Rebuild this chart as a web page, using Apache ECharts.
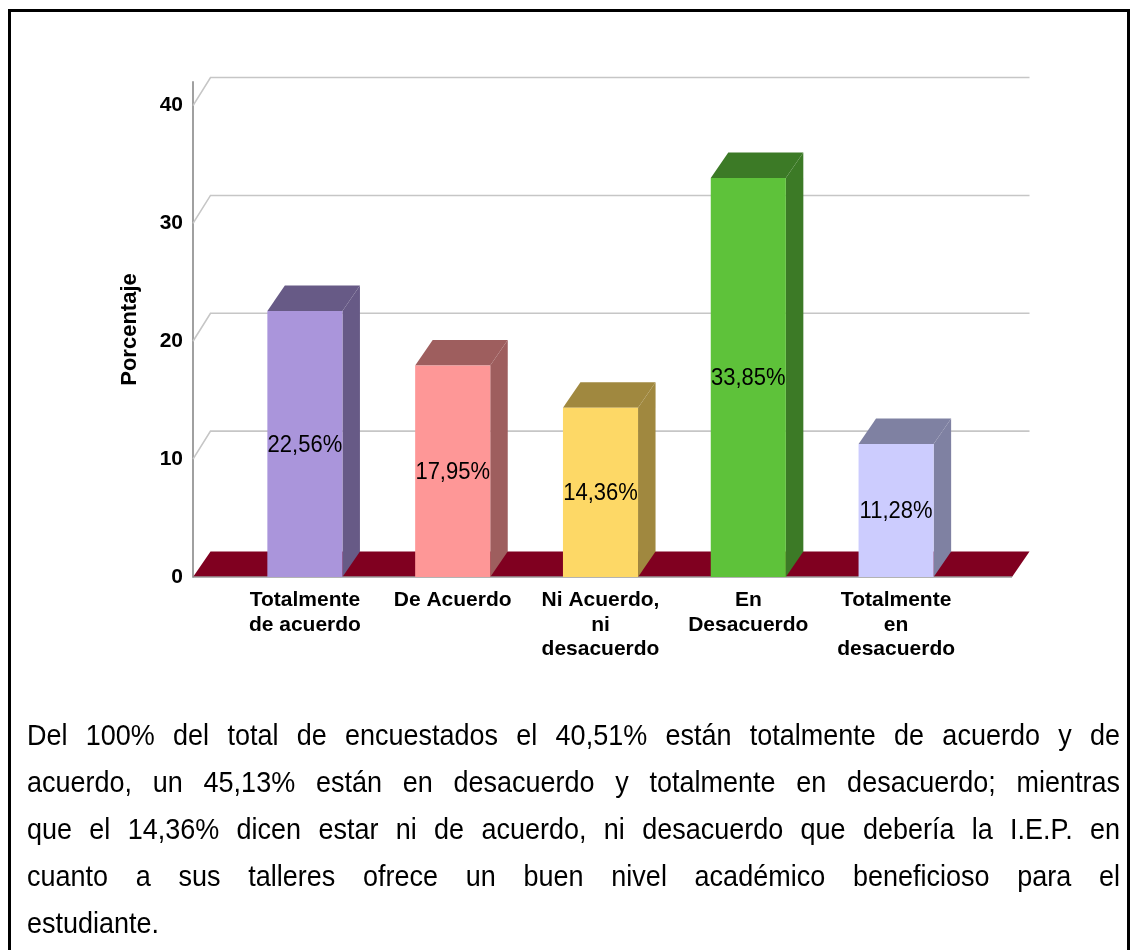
<!DOCTYPE html>
<html><head><meta charset="utf-8">
<script src="https://cdn.jsdelivr.net/npm/echarts@6/dist/echarts.min.js"></script>
<style>
html,body{margin:0;padding:0;background:#fff;}
#wrap{position:relative;width:1131px;height:950px;overflow:hidden;background:#fff;}
#chart{position:absolute;left:0;top:0;width:1131px;height:950px;}
#frame{position:absolute;left:8px;top:9px;width:1122px;height:980px;border:3px solid #000;box-sizing:border-box;pointer-events:none;}
#para{position:absolute;left:27px;top:712px;width:1093px;font-family:"Liberation Sans",Arial,sans-serif;font-size:27px;line-height:47px;color:#000;}
#para div{white-space:nowrap;text-align:justify;text-align-last:justify;transform:scaleY(1.08);}
#para div.last{text-align-last:left;text-align:left;}
</style></head>
<body><div id="wrap"><div id="chart"></div><div id="frame"></div><div id="para"></div></div>
<script>
// ---- data ----
const categories = ['Totalmente\nde acuerdo', 'De Acuerdo', 'Ni Acuerdo,\nni\ndesacuerdo', 'En\nDesacuerdo', 'Totalmente\nen\ndesacuerdo'];
const percentages = [22.56, 17.95, 14.36, 33.85, 11.28];
const yTicks = [10, 20, 30, 40];
const yAxisName = 'Porcentaje';
const paragraphLines = [
  'Del 100% del total de encuestados el 40,51% están totalmente de acuerdo y de',
  'acuerdo, un 45,13% están en desacuerdo y totalmente en desacuerdo; mientras',
  'que el 14,36% dicen estar ni de acuerdo, ni desacuerdo que debería la I.E.P. en',
  'cuanto a sus talleres ofrece un buen nivel académico beneficioso para el',
  'estudiante.'
];
// ---- styles ----
const faceColors = ['#AA95DB', '#FE9797', '#FDD866', '#5EC23A', '#CCCCFE'];
const shadeColors = ['#675A86', '#9E5E5E', '#A0883F', '#3C7A26', '#7F81A2'];
const FLOOR = '#800020';
const GRID_GRAY = '#c6c6c6';
const DX = 17.5, DY = -25.5, GRID_DY = -28;
const AXIS_OFFSET = 38, FLOOR_PAD_RIGHT = 42;
const FONT = '"Liberation Sans", Arial, sans-serif';

// paragraph (plain text)
const para = document.getElementById('para');
paragraphLines.forEach((t, i) => {
  const d = document.createElement('div');
  d.textContent = t;
  if (i === paragraphLines.length - 1) d.className = 'last';
  para.appendChild(d);
});

function fmt(v) { return v.toFixed(2).replace('.', ',') + '%'; }

function renderFrame(params, api) {
  const cs = params.coordSys;
  const xl = cs.x - AXIS_OFFSET;
  const xr = cs.x + cs.width + FLOOR_PAD_RIGHT;
  const y0 = api.coord([0, 0])[1];
  const children = [];
  yTicks.forEach(t => {
    const y = api.coord([0, t])[1];
    children.push({
      type: 'polyline',
      shape: { points: [[xl, y], [xl + DX, y + GRID_DY], [xr + DX, y + GRID_DY]] },
      style: { stroke: GRID_GRAY, lineWidth: 1.6, fill: null }
    });
  });
  children.push({
    type: 'polygon',
    shape: { points: [[xl, y0], [xl + DX, y0 + DY], [xr + DX, y0 + DY], [xr, y0]] },
    style: { fill: FLOOR }
  });
  children.push({
    type: 'line',
    shape: { x1: xl, y1: y0, x2: xr, y2: y0 },
    style: { stroke: '#9a9a9a', lineWidth: 1.5 }
  });
  return { type: 'group', children };
}

function renderBar(params, api) {
  const i = api.value(0), v = api.value(1);
  const topPt = api.coord([i, v]);
  const basePt = api.coord([i, 0]);
  const bw = api.size([1, 0])[0] * 0.508;
  const x0 = topPt[0] - bw / 2, x1 = topPt[0] + bw / 2;
  const yt = topPt[1], yb = basePt[1];
  return {
    type: 'group',
    children: [
      { type: 'polygon', shape: { points: [[x1, yt], [x1 + DX, yt + DY], [x1 + DX, yb + DY], [x1, yb]] }, style: { fill: shadeColors[i] } },
      { type: 'polygon', shape: { points: [[x0, yt], [x0 + DX, yt + DY], [x1 + DX, yt + DY], [x1, yt]] }, style: { fill: shadeColors[i] } },
      { type: 'rect', shape: { x: x0, y: yt, width: bw, height: yb - yt }, style: { fill: faceColors[i] } },
      { type: 'text', x: topPt[0], y: (yt + yb) / 2 + 1, scaleY: 1.12, style: { text: fmt(v), fill: '#000', fontSize: 22, fontFamily: FONT, align: 'center', verticalAlign: 'middle' } }
    ]
  };
}

const chart = echarts.init(document.getElementById('chart'), null, { renderer: 'canvas' });
chart.setOption({
  animation: false,
  backgroundColor: 'transparent',
  textStyle: { fontFamily: FONT },
  grid: { left: 231, right: 161, top: 82, bottom: 373, containLabel: false },
  xAxis: {
    type: 'category',
    data: categories,
    axisLine: { show: false },
    axisTick: { show: false },
    splitLine: { show: false },
    axisLabel: { interval: 0, color: '#000', fontSize: 21, fontWeight: 'bold', lineHeight: 24.5, margin: 11, fontFamily: FONT }
  },
  yAxis: {
    type: 'value',
    min: 0, max: 42, interval: 10,
    offset: AXIS_OFFSET,
    axisLine: { show: true, lineStyle: { color: '#a0a0a0', width: 2 } },
    axisTick: { show: false },
    splitLine: { show: false },
    axisLabel: { color: '#000', fontSize: 21, fontWeight: 'bold', margin: 10, fontFamily: FONT,
      formatter: v => (v % 10 === 0 ? String(v) : '') },
    name: yAxisName,
    nameLocation: 'middle',
    nameRotate: 90,
    nameGap: 52,
    nameTextStyle: { color: '#000', fontSize: 22, fontWeight: 'bold', fontFamily: FONT }
  },
  series: [
    { type: 'custom', renderItem: renderFrame, data: [[0, 0]], encode: { x: 0, y: 1 }, z: 1, silent: true },
    { type: 'custom', renderItem: renderBar, data: percentages.map((v, i) => [i, v]), encode: { x: 0, y: 1 }, z: 2 }
  ]
});
</script>
</body></html>
